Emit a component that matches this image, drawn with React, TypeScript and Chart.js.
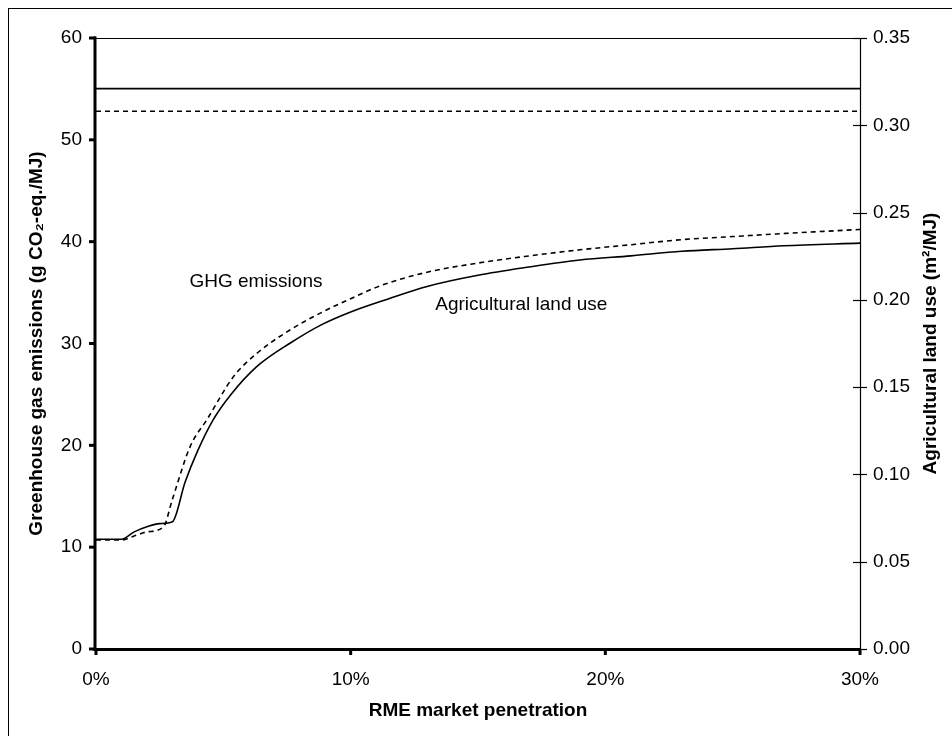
import React, { useEffect, useRef } from 'react';
import { Chart, registerables } from 'chart.js';

Chart.register(...registerables);

// RME market penetration (%) for the GHG emissions curve (left axis)
const ghgPenetration = [0, 1.0, 1.5, 2.0, 2.65, 3.0, 3.7, 4.35, 5.4, 6.3, 7.6, 8.9, 10, 11.2, 13, 15, 17, 19, 21, 23, 25, 27, 30];
// Greenhouse gas emissions (g CO2-eq./MJ)
const ghgEmissions = [10.7, 10.7, 11.1, 11.5, 12.0, 14.7, 19.9, 22.5, 26.75, 29.0, 31.3, 33.1, 34.4, 35.7, 37.0, 37.9, 38.6, 39.2, 39.7, 40.2, 40.5, 40.8, 41.2];

// RME market penetration (%) for the agricultural land use curve (right axis)
const landPenetration = [0, 1.0, 1.5, 2.0, 2.5, 3.0, 3.5, 4.0, 4.6, 5.3, 6.3, 7.6, 8.9, 10, 11.5, 13, 15, 17, 19, 21, 23, 25, 27, 30];
// Agricultural land use (m2/MJ)
const landUse = [0.0629, 0.0629, 0.0671, 0.0700, 0.0718, 0.0729, 0.0957, 0.1138, 0.1313, 0.1458, 0.1616, 0.1750, 0.1861, 0.1931, 0.2007, 0.2077, 0.2141, 0.2188, 0.2228, 0.2252, 0.2278, 0.2293, 0.2310, 0.2325];

// Reference (horizontal) lines
const referenceRange = [0, 30];
const ghgReference = 52.8;
const landUseReference = 0.321;

// Tick values
const xTicks = [0, 10, 20, 30];
const leftTicks = [0, 10, 20, 30, 40, 50, 60];
const rightTicks = [0, 0.05, 0.1, 0.15, 0.2, 0.25, 0.3, 0.35];

// In-chart labels (data coordinates)
const curveLabels = ['GHG emissions', 'Agricultural land use'];
const curveLabelX = [6.28, 16.7];
const curveLabelY = [36.05, 33.8];

const FONT = '"Liberation Sans", Arial, sans-serif';

const axesPlugin = {
  id: 'axesDraw',
  afterDraw(chart: any) {
    const { ctx, chartArea: a, scales } = chart;
    const xs = scales.x, ys = scales.y, y2 = scales.y2;
    const line = (x1: number, y1: number, x2: number, y2p: number) => {
      ctx.beginPath();
      ctx.moveTo(x1, y1);
      ctx.lineTo(x2, y2p);
      ctx.stroke();
    };
    ctx.save();
    ctx.strokeStyle = '#000';
    ctx.lineCap = 'butt';
    // top border
    ctx.lineWidth = 1.2;
    line(a.left, a.top + 0.5, a.right, a.top + 0.5);
    // right axis
    ctx.lineWidth = 1.2;
    line(a.right + 0.5, a.top, a.right + 0.5, a.bottom);
    y2.ticks.forEach((t: any) => {
      const py = Math.round(y2.getPixelForValue(t.value)) + 0.5;
      line(a.right - 7, py, a.right + 7, py);
    });
    // left axis
    ctx.lineWidth = 3;
    line(a.left - 1, a.top - 1.5, a.left - 1, a.bottom + 2);
    ys.ticks.forEach((t: any) => {
      const py = ys.getPixelForValue(t.value);
      line(a.left - 7, py, a.left, py);
    });
    // bottom axis
    line(a.left - 2.5, a.bottom + 0.5, a.right + 1, a.bottom + 0.5);
    xs.ticks.forEach((t: any) => {
      const px = xs.getPixelForValue(t.value);
      line(px, a.bottom, px, a.bottom + 6);
    });
    // curve labels
    ctx.fillStyle = '#000';
    ctx.font = `19px ${FONT}`;
    ctx.textAlign = 'center';
    ctx.textBaseline = 'middle';
    curveLabels.forEach((txt, i) => {
      ctx.fillText(txt, xs.getPixelForValue(curveLabelX[i]), ys.getPixelForValue(curveLabelY[i]));
    });
    // right axis title (reads bottom to top)
    ctx.font = `bold 19px ${FONT}`;
    ctx.translate(931, (a.top + a.bottom) / 2);
    ctx.rotate(-Math.PI / 2);
    ctx.fillText('Agricultural land use (m\u00B2/MJ)', 0, 0);
    ctx.restore();
  },
};

export default function App() {
  const ref = useRef<HTMLCanvasElement | null>(null);

  useEffect(() => {
    if (!ref.current) return;
    const pts = (xs: number[], ys: number[]) => xs.map((x, i) => ({ x, y: ys[i] }));
    const hiddenGrid = (len: number) => ({
      display: true,
      drawOnChartArea: false,
      drawTicks: true,
      tickLength: len,
      tickColor: 'rgba(0,0,0,0)',
      color: 'rgba(0,0,0,0)',
    });
    const chart = new Chart(ref.current, {
      type: 'line',
      data: {
        datasets: [
          {
            label: 'GHG emissions',
            data: pts(ghgPenetration, ghgEmissions),
            yAxisID: 'y',
            borderColor: '#000',
            borderWidth: 1.6,
            borderDash: [5, 4],
            pointRadius: 0,
            cubicInterpolationMode: 'monotone',
            fill: false,
          },
          {
            label: 'Agricultural land use',
            data: pts(landPenetration, landUse),
            yAxisID: 'y2',
            borderColor: '#000',
            borderWidth: 1.6,
            pointRadius: 0,
            cubicInterpolationMode: 'monotone',
            fill: false,
          },
          {
            label: 'GHG reference',
            data: referenceRange.map((x) => ({ x, y: ghgReference })),
            yAxisID: 'y',
            borderColor: '#000',
            borderWidth: 1.6,
            borderDash: [5, 4],
            pointRadius: 0,
            fill: false,
          },
          {
            label: 'Land use reference',
            data: referenceRange.map((x) => ({ x, y: landUseReference })),
            yAxisID: 'y2',
            borderColor: '#000',
            borderWidth: 1.6,
            pointRadius: 0,
            fill: false,
          },
        ],
      },
      options: {
        responsive: false,
        animation: false,
        layout: { padding: { top: 38, left: 0, right: 0, bottom: 0 } },
        plugins: { legend: { display: false }, tooltip: { enabled: false } },
        scales: {
          x: {
            type: 'linear',
            min: 0,
            max: 30,
            afterBuildTicks: (s: any) => { s.ticks = xTicks.map((v) => ({ value: v })); },
            afterFit: (s: any) => { s.height = 87; },
            grid: hiddenGrid(6),
            border: { display: false },
            ticks: {
              color: '#000',
              font: { family: FONT, size: 19 },
              padding: 13,
              maxRotation: 0,
              callback: (v: any) => `${v}%`,
            },
            title: {
              display: true,
              text: 'RME market penetration',
              color: '#000',
              font: { family: FONT, size: 19, weight: 'bold' },
              padding: { top: 0, bottom: 13.6 },
            },
          },
          y: {
            type: 'linear',
            position: 'left',
            min: 0,
            max: 60,
            afterBuildTicks: (s: any) => { s.ticks = leftTicks.map((v) => ({ value: v })); },
            afterFit: (s: any) => { s.width = 96; },
            grid: hiddenGrid(8),
            border: { display: false },
            ticks: {
              color: '#000',
              font: { family: FONT, size: 19 },
              padding: 6,
              callback: (v: any) => `${v}`,
            },
            title: {
              display: true,
              text: 'Greenhouse gas emissions (g CO\u2082-eq./MJ)',
              color: '#000',
              font: { family: FONT, size: 19, weight: 'bold' },
              padding: { top: 25.6, bottom: 0 },
            },
          },
          y2: {
            type: 'linear',
            position: 'right',
            min: 0,
            max: 0.35,
            afterBuildTicks: (s: any) => { s.ticks = rightTicks.map((v) => ({ value: v })); },
            afterFit: (s: any) => { s.width = 92; },
            grid: hiddenGrid(7),
            border: { display: false },
            ticks: {
              color: '#000',
              font: { family: FONT, size: 19 },
              padding: 6,
              callback: (v: any) => Number(v).toFixed(2),
            },
            title: { display: false },
          },
        },
      },
      plugins: [axesPlugin],
    } as any);
    return () => chart.destroy();
  }, []);

  return (
    <>
      <div
        style={{
          position: 'fixed',
          left: 8,
          top: 8,
          width: 1200,
          height: 1200,
          border: '1px solid #000',
          boxSizing: 'border-box',
          background: '#fff',
        }}
      />
      <canvas
        ref={ref}
        width={952}
        height={736}
        style={{ position: 'fixed', left: 0, top: 0, width: 952, height: 736 }}
      />
    </>
  );
}
